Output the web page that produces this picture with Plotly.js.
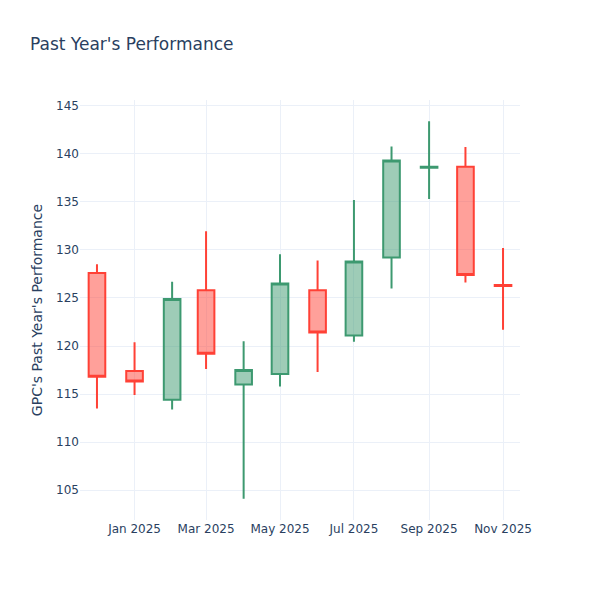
<!DOCTYPE html>
<html>
<head>
<meta charset="utf-8">
<script src="https://cdn.plot.ly/plotly-3.0.1.min.js"></script>
<style>html,body{margin:0;padding:0;background:#fff;}#chart{width:600px;height:600px;}</style>
</head>
<body>
<div id="chart"></div>
<script>
const dates = ["2024-12-01","2025-01-01","2025-02-01","2025-03-01","2025-04-01","2025-05-01","2025-06-01","2025-07-01","2025-08-01","2025-09-01","2025-10-01","2025-11-01"];
const openV  = [127.6, 117.4, 114.4, 125.8, 116.0, 117.1, 125.8, 121.1, 129.2, 138.55, 138.65, 126.35];
const highV  = [128.5, 120.4, 126.7, 131.95, 120.5, 129.55, 128.9, 135.2, 140.76, 143.4, 140.7, 130.2];
const lowV   = [113.5, 114.9, 113.4, 117.6, 104.1, 115.8, 117.3, 120.45, 126.0, 135.3, 126.6, 121.7];
const closeV = [116.8, 116.3, 124.9, 119.2, 117.5, 126.5, 121.4, 128.8, 139.3, 138.65, 127.4, 126.25];

const trace = {
  type: "candlestick",
  x: dates, open: openV, high: highV, low: lowV, close: closeV,
  increasing: {line: {color: "#3D9970"}},
  decreasing: {line: {color: "#FF4136"}}
};

const grid = "#EBF0F8";
const layout = {
  width: 600, height: 600,
  paper_bgcolor: "#fff", plot_bgcolor: "#fff",
  font: {family: "'DejaVu Sans', verdana, sans-serif", color: "#2a3f5f", size: 12},
  title: {text: "Past Year's Performance", x: 0.05, font: {size: 17, color: "#2a3f5f"}},
  margin: {l: 80, r: 80, t: 100, b: 80},
  showlegend: false,
  xaxis: {type: "date", rangeslider: {visible: false}, gridcolor: grid, showline: false, zeroline: false,
          ticks: "", tickformat: "%b %Y", dtick: "M2", tick0: "2025-01-01"},
  yaxis: {title: {text: "GPC's Past Year's Performance"}, gridcolor: grid, showline: false, zeroline: false,
          ticks: "", range: [101.9, 145.6], dtick: 5}
};

Plotly.newPlot("chart", [trace], layout, {displayModeBar: false});
</script>
</body>
</html>
